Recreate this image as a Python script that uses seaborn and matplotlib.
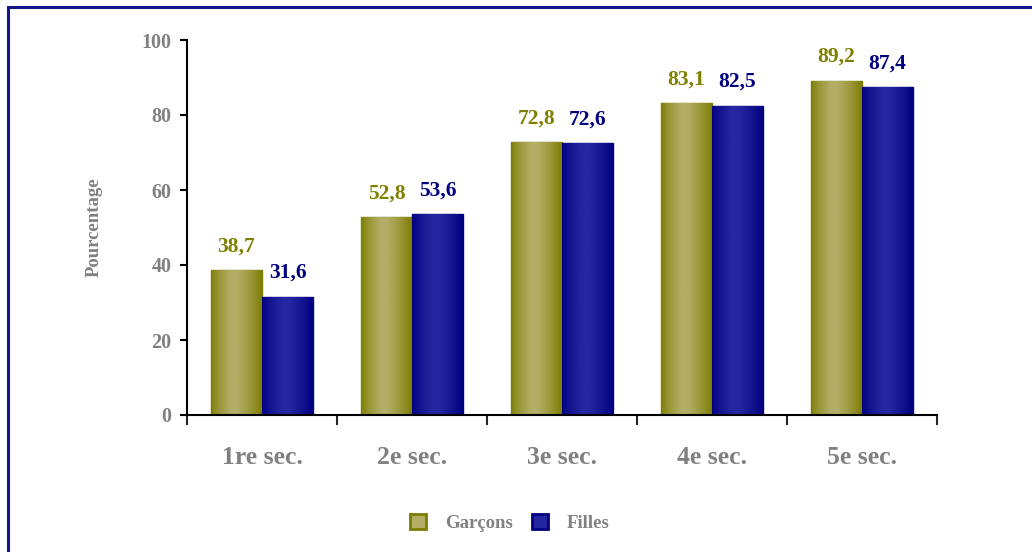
import numpy as np
import pandas as pd
import matplotlib.pyplot as plt
import seaborn as sns
from matplotlib.colors import LinearSegmentedColormap
from matplotlib.patches import Rectangle, Patch

# Data
niveaux = ['1re sec.', '2e sec.', '3e sec.', '4e sec.', '5e sec.']
garcons = [38.7, 52.8, 72.8, 83.1, 89.2]
filles = [31.6, 53.6, 72.6, 82.5, 87.4]
groupes = ['Garçons', 'Filles']

df = pd.DataFrame({
    'niveau': niveaux * 2,
    'valeur': garcons + filles,
    'sexe': ['Garçons'] * 5 + ['Filles'] * 5,
})

dark = {'Garçons': '#7c7c00', 'Filles': '#000080'}
light = {'Garçons': '#b3ad66', 'Filles': '#2626a0'}
txt_col = {'Garçons': '#808000', 'Filles': '#000080'}
grey = '#808080'

sns.set_style('white')
plt.rcParams['font.family'] = ['Liberation Serif', 'DejaVu Serif']
plt.rcParams['font.weight'] = 'bold'

fig = plt.figure(figsize=(10.32, 5.52), dpi=100)
ax = fig.add_axes([187 / 1032, 1 - 415 / 552, 750 / 1032, 375 / 552])

sns.barplot(data=df, x='niveau', y='valeur', hue='sexe', hue_order=groupes,
            palette=dark, width=0.68, gap=0, saturation=1, ax=ax, legend=False)


def shade(patch, c0, c1):
    # cylinder-like horizontal gradient clipped to the bar
    x0, y0 = patch.get_x(), patch.get_y()
    w, h = patch.get_width(), patch.get_height()
    prof = np.concatenate([np.linspace(0, 1, 40) ** 0.7, np.ones(12), np.linspace(1, 0, 48) ** 0.8])
    cmap = LinearSegmentedColormap.from_list('g', [c0, c1])
    im = ax.imshow(prof[None, :], cmap=cmap, vmin=0, vmax=1, aspect='auto',
                   extent=[x0, x0 + w, y0, y0 + h], zorder=2, interpolation='bilinear')
    im.set_clip_path(patch)


for cont, g in zip(ax.containers, groupes):
    vals = garcons if g == 'Garçons' else filles
    for p, v in zip(cont.patches, vals):
        p.set_edgecolor(dark[g])
        p.set_linewidth(1.0)
        shade(p, dark[g], light[g])
        ax.annotate(f'{v:.1f}'.replace('.', ','), (p.get_x() + p.get_width() / 2, v),
                    xytext=(0, 17), textcoords='offset points', ha='center', va='center',
                    fontsize=15.5, fontweight='bold', color=txt_col[g])

ax.set_xlim(-0.5, 4.5)
ax.set_ylim(0, 100)
ax.set_yticks([0, 20, 40, 60, 80, 100])
ax.tick_params(axis='y', direction='out', length=5, width=1.5, colors='black',
               labelcolor=grey, labelsize=14.5, pad=6, left=True)
ax.set_xticks(np.arange(-0.5, 5, 1))
ax.set_xticklabels([])
ax.set_xticks(range(5), minor=True)
ax.set_xticklabels(niveaux, minor=True)
ax.tick_params(axis='x', which='major', direction='out', length=7, width=1.5, bottom=True)
ax.tick_params(axis='x', which='minor', length=0, labelsize=18.5, labelcolor=grey, pad=22)
for lab in ax.get_xticklabels(minor=True) + ax.get_yticklabels():
    lab.set_fontweight('bold')

for s in ['top', 'right']:
    ax.spines[s].set_visible(False)
for s in ['left', 'bottom']:
    ax.spines[s].set_color('black')
    ax.spines[s].set_linewidth(1.5)

ax.set_xlabel('')
ax.set_ylabel('Pourcentage', color=grey, fontsize=13.5, fontweight='bold')
ax.yaxis.set_label_coords(-0.113, 0.5)

handles = [Patch(facecolor=light[g], edgecolor=dark[g], linewidth=2) for g in groupes]
leg = fig.legend(handles, groupes, loc='center', bbox_to_anchor=(0.494, 0.052), ncol=2,
                 frameon=False, handlelength=0.85, handleheight=0.85, handletextpad=1.0,
                 columnspacing=1.0, prop={'size': 13.5, 'weight': 'bold'})
for t in leg.get_texts():
    t.set_color(grey)

# outer frame (continues past right and bottom edges)
fig.patches.append(Rectangle((7.5 / 1032, -0.1), 1.2, 1 - 6.5 / 552 + 0.1,
                             transform=fig.transFigure, fill=False,
                             edgecolor='#14148c', linewidth=2.2, clip_on=False))

fig.savefig('out.png', dpi=100)
